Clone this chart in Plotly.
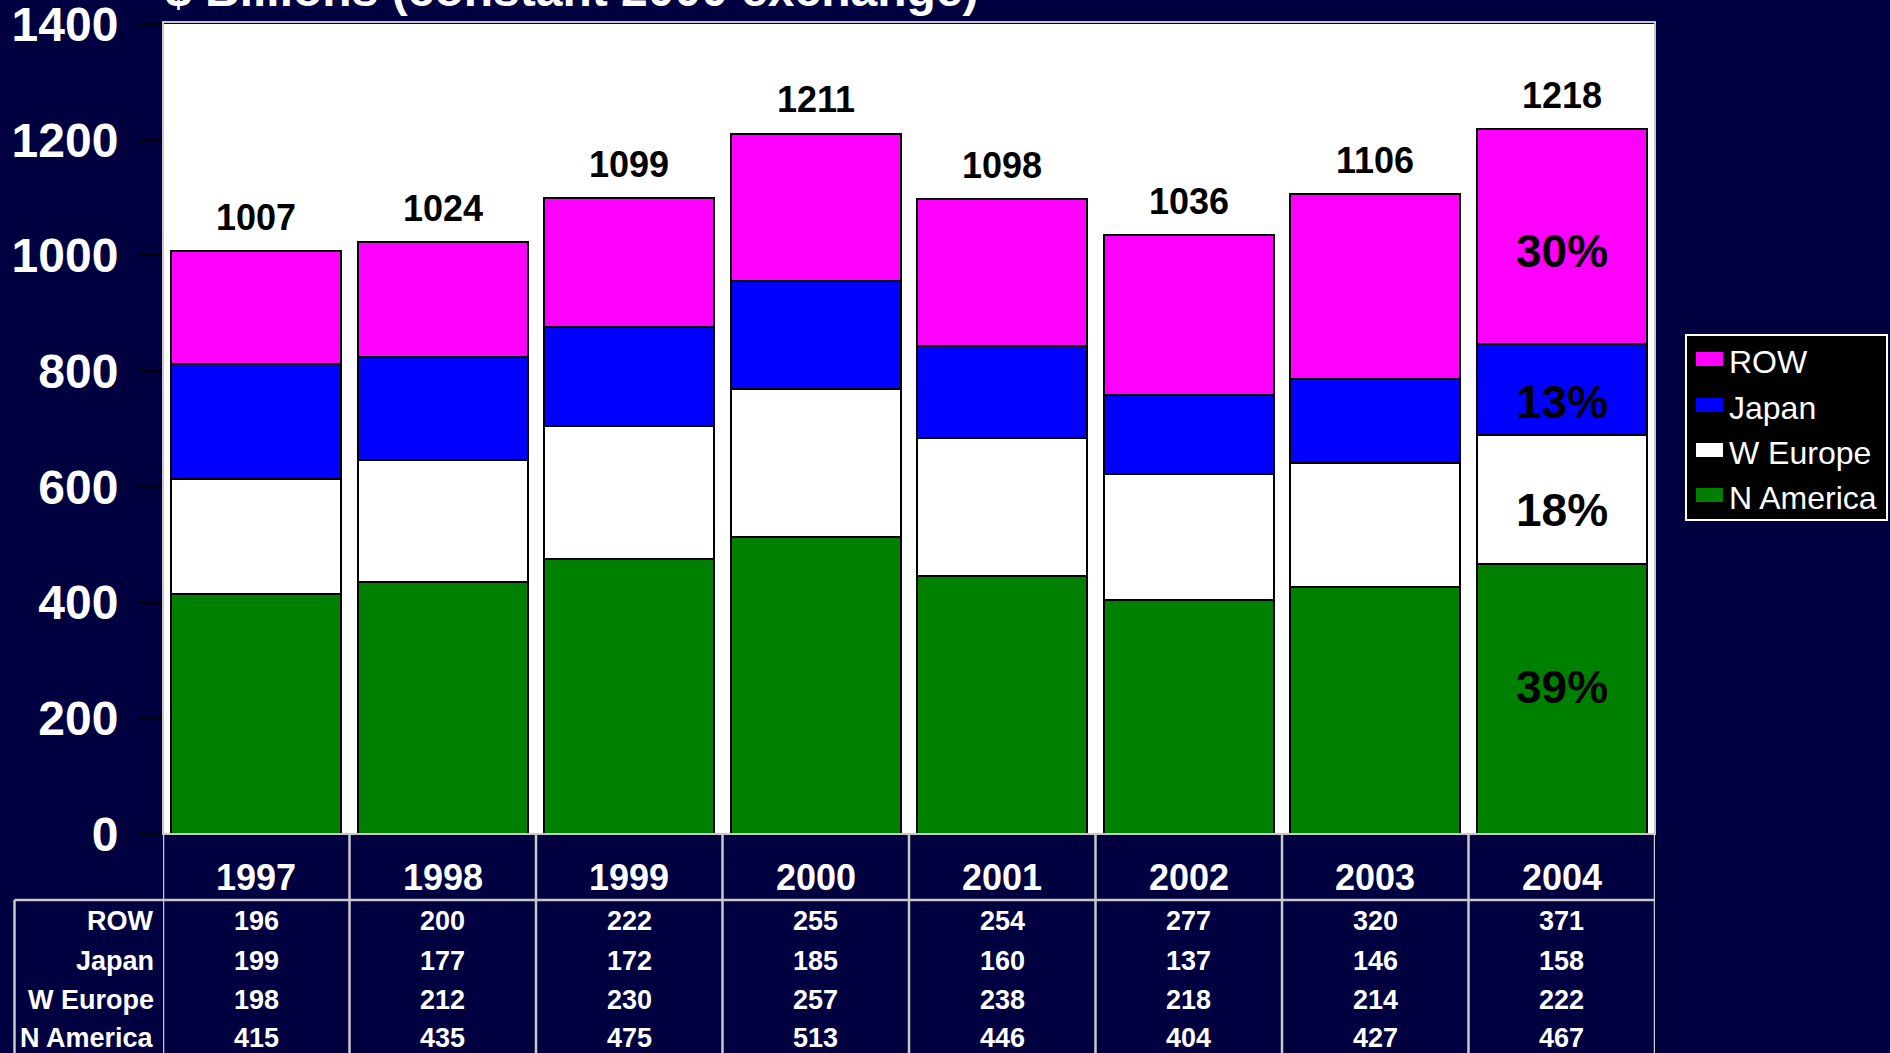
import plotly.graph_objects as go

# ---------------- data ----------------
years = ["1997", "1998", "1999", "2000", "2001", "2002", "2003", "2004"]
row_vals = [196, 200, 222, 255, 254, 277, 320, 371]
japan_vals = [199, 177, 172, 185, 160, 137, 146, 158]
weurope_vals = [198, 212, 230, 257, 238, 218, 214, 222]
namerica_vals = [415, 435, 475, 513, 446, 404, 427, 467]
totals = [1007, 1024, 1099, 1211, 1098, 1036, 1106, 1218]
series_names = ["N America", "W Europe", "Japan", "ROW"]
pct_labels_2004 = ["39%", "18%", "13%", "30%"]   # N America, W Europe, Japan, ROW
title_text = "$ Billions (constant 2000 exchange)"
y_ticks = [0, 200, 400, 600, 800, 1000, 1200, 1400]

# ---------------- style ----------------
BG = "#000040"
colors = ["#008000", "#FFFFFF", "#0000FF", "#FF00FF"]
FONT = "Arial, Liberation Sans, sans-serif"
GRID = "#C8C8C8"

W, H = 1890, 1053
L, R, T, B = 163, W - 1655, 24, H - 834
plot_h = H - T - B
plot_w = W - L - R


def py(px):
    """pixel y (from top of page) -> paper y"""
    return (H - B - px) / plot_h


def px_x(px):
    return (px - L) / plot_w


series_vals = [namerica_vals, weurope_vals, japan_vals, row_vals]
n = len(years)
xpos = list(range(n))

fig = go.Figure()
for name, vals, col in zip(series_names, series_vals, colors):
    fig.add_trace(go.Bar(
        x=xpos, y=vals, name=name, customdata=years,
        marker=dict(color=col, line=dict(color="black", width=2)),
        hovertemplate="%{customdata}: %{y}<extra>" + name + "</extra>",
        showlegend=False,
    ))

annotations = []

# title (mostly cut off at the top of the page)
annotations.append(dict(
    x=0, y=py(-10), xref="paper", yref="paper", text=title_text,
    showarrow=False, xanchor="left", yanchor="middle",
    font=dict(family=FONT, size=48, color="white", weight="bold"),
))

# totals above bars
for i, tot in enumerate(totals):
    annotations.append(dict(
        x=xpos[i], y=tot, xref="x", yref="y", text=str(tot), showarrow=False,
        yanchor="bottom", yshift=11,
        font=dict(family=FONT, size=36, color="black", weight="bold"),
    ))

# percentage labels inside the 2004 bar
last = n - 1
cum = 0
pct_shift = [12, -10, -12, -14]
for vals, lab, sh in zip(series_vals, pct_labels_2004, pct_shift):
    v = vals[last]
    annotations.append(dict(
        x=xpos[last], y=cum + v / 2, xref="x", yref="y", text=lab,
        showarrow=False, yanchor="middle", yshift=sh,
        font=dict(family=FONT, size=46, color="black", weight="bold"),
    ))
    cum += v

# table: year header row
for i, yr in enumerate(years):
    annotations.append(dict(
        x=xpos[i], y=py(877), xref="x", yref="paper", text=yr,
        showarrow=False, yanchor="middle",
        font=dict(family=FONT, size=36, color="white", weight="bold"),
    ))

# table: data rows (top to bottom: ROW, Japan, W Europe, N America)
row_order = [("ROW", row_vals), ("Japan", japan_vals),
             ("W Europe", weurope_vals), ("N America", namerica_vals)]
row_px = [921, 961, 1000, 1038]
for (lab, vals), rp in zip(row_order, row_px):
    annotations.append(dict(
        x=px_x(156), y=py(rp), xref="paper", yref="paper", text=lab,
        showarrow=False, xanchor="right", yanchor="middle",
        font=dict(family=FONT, size=27, color="white", weight="bold"),
    ))
    for i, v in enumerate(vals):
        annotations.append(dict(
            x=xpos[i], y=py(rp), xref="x", yref="paper", text=str(v),
            showarrow=False, yanchor="middle",
            font=dict(family=FONT, size=27, color="white", weight="bold"),
        ))

shapes = []
# plot frame
shapes.append(dict(type="rect", xref="paper", yref="paper", x0=0, x1=1, y0=0,
                   y1=py(22), line=dict(color=GRID, width=2), layer="above"))
# column lines of the table
for i in range(n + 1):
    shapes.append(dict(type="line", xref="x", yref="paper", x0=i - 0.5,
                       x1=i - 0.5, y0=0, y1=py(H + 5),
                       line=dict(color=GRID, width=2.5)))
# left border of row-label column
shapes.append(dict(type="line", xref="paper", yref="paper", x0=px_x(14.5),
                   x1=px_x(14.5), y0=py(900), y1=py(H + 5),
                   line=dict(color=GRID, width=2.5)))
# horizontal line under header
shapes.append(dict(type="line", xref="paper", yref="paper", x0=px_x(14.5),
                   x1=1, y0=py(900), y1=py(900),
                   line=dict(color=GRID, width=2.5)))

# legend (drawn as a boxed key to match the original's wide swatches)
legend_order = [("ROW", colors[3]), ("Japan", colors[2]),
                ("W Europe", colors[1]), ("N America", colors[0])]
leg_x0, leg_x1, leg_y0, leg_y1 = 1686, 1887, 335, 520
shapes.append(dict(type="rect", xref="paper", yref="paper",
                   x0=px_x(leg_x0), x1=px_x(leg_x1),
                   y0=py(leg_y1), y1=py(leg_y0),
                   fillcolor="black", line=dict(color="white", width=2)))
item_px = [360, 406, 451, 496]
for (lab, col), cy in zip(legend_order, item_px):
    shapes.append(dict(type="rect", xref="paper", yref="paper",
                       x0=px_x(1696), x1=px_x(1723),
                       y0=py(cy + 6), y1=py(cy - 8),
                       fillcolor=col, line=dict(width=0)))
    annotations.append(dict(
        x=px_x(1727), y=py(cy + 2), xref="paper", yref="paper", text=lab,
        showarrow=False, xanchor="left", yanchor="middle",
        font=dict(family=FONT, size=32, color="white"),
    ))

fig.update_layout(
    width=W, height=H,
    barmode="stack", bargap=0.086,
    paper_bgcolor=BG, plot_bgcolor="white",
    margin=dict(l=L, r=R, t=T, b=B, pad=0, autoexpand=False),
    xaxis=dict(range=[-0.5, n - 0.5], showticklabels=False, automargin=False,
               ticks="", showgrid=False, zeroline=False, showline=False,
               fixedrange=True),
    yaxis=dict(range=[0, 1400], tickvals=y_ticks, ticks="outside",
               ticklen=24, tickwidth=2, tickcolor="black", showgrid=False,
               zeroline=False, showline=False, ticklabeloverflow="allow",
               ticklabelstandoff=10, automargin=False,
               tickfont=dict(family=FONT, size=48, color="white", weight="bold")),
    annotations=annotations,
    shapes=shapes,
    showlegend=False,
)

fig.write_html("out.html",
               config={"displayModeBar": False},
               post_script="document.body.style.margin='0px';"
                           "document.body.style.overflow='hidden';")
